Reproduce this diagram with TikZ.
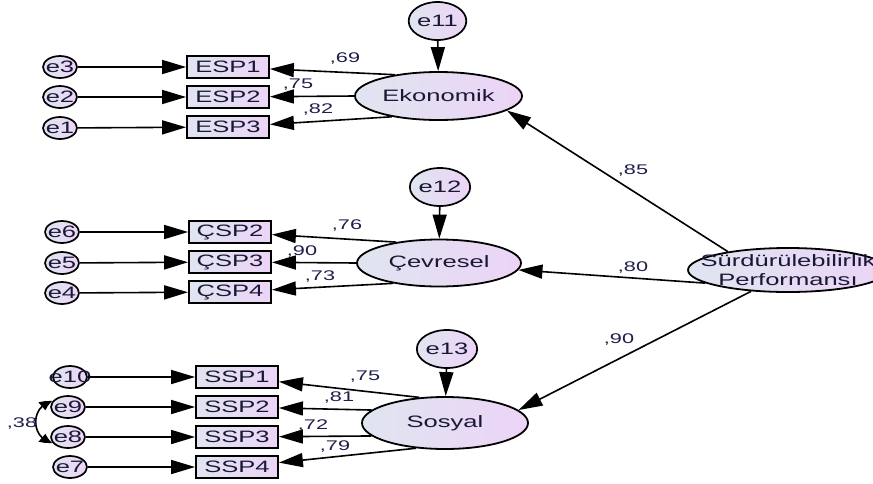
\documentclass[tikz,border=0pt]{standalone}
\usepackage{fontspec}
\setmainfont{Liberation Sans}[FakeStretch=1.55]
\usetikzlibrary{shapes.geometric,arrows.meta,bending}

\definecolor{shadeL}{RGB}{224,229,240}
\definecolor{shadeR}{RGB}{236,212,246}
\definecolor{txtcol}{RGB}{25,25,55}
\definecolor{numcol}{RGB}{30,30,75}
\newcommand{\ebox}[1]{\makebox[0pt]{#1}}

\begin{document}
\begin{tikzpicture}[x=1pt, y=1pt,
    every node/.style={text=txtcol, font=\fontsize{16.5pt}{19pt}\selectfont},
    obs/.style={draw, line width=1.8pt, rectangle, left color=shadeL, right color=shadeR, minimum width=82pt, minimum height=22pt, inner sep=0pt},
    lat/.style={draw, line width=1.8pt, ellipse, left color=shadeL, right color=shadeR, inner sep=0pt},
    err/.style={draw, line width=1.7pt, ellipse, left color=shadeL, right color=shadeR, minimum width=34pt, minimum height=22pt, inner sep=0pt},
    res/.style={draw, line width=1.7pt, ellipse, left color=shadeL, right color=shadeR, minimum width=50pt, minimum height=38pt, inner sep=0pt},
    arr/.style={line width=1.6pt, -{Triangle[length=24pt,width=14pt]}},
    cov/.style={line width=1.6pt, {Triangle[length=12pt,width=10pt,bend]}-{Triangle[length=12pt,width=10pt,bend]}},
    coef/.style={font=\fontsize{14pt}{16pt}\selectfont, text=numcol, inner sep=0pt}]
    \useasboundingbox (0,0) rectangle (873,-483);

    % Latent factors
    \node[lat, minimum width=167pt, minimum height=48pt] (Eko) at (438.5,-96) {Ekonomik};
    \node[lat, minimum width=164pt, minimum height=47pt] (Cev) at (439,-263) {Çevresel};
    \node[lat, minimum width=166pt, minimum height=52pt] (Sos) at (445,-423) {Sosyal};
    \node[lat, minimum width=200pt, minimum height=44pt,
          label={[align=center, text=txtcol]center:Sürdürülebilirlik\\Performansı}] (SP) at (788,-270) {};

    % Residuals of the factors
    \node[res] (e11) at (437.5,-21) {e11};
    \node[res] (e12) at (440,-187) {e12};
    \node[res] (e13) at (447,-349) {e13};

    % Ekonomik indicators
    \node[obs] (ESP1) at (228,-67) {ESP1};
    \node[obs] (ESP2) at (228,-97) {ESP2};
    \node[obs] (ESP3) at (228,-127) {ESP3};
    \node[err] (e3) at (60,-67) {\ebox{e3}};
    \node[err] (e2) at (60,-97) {\ebox{e2}};
    \node[err] (e1) at (60,-128) {\ebox{e1}};

    % Cevresel indicators
    \node[obs] (CSP2) at (230,-232) {ÇSP2};
    \node[obs] (CSP3) at (230,-262) {ÇSP3};
    \node[obs] (CSP4) at (230,-292) {ÇSP4};
    \node[err] (e6) at (62,-232) {\ebox{e6}};
    \node[err] (e5) at (62,-263) {\ebox{e5}};
    \node[err] (e4) at (62,-293) {\ebox{e4}};

    % Sosyal indicators
    \node[obs] (SSP1) at (237,-377) {SSP1};
    \node[obs] (SSP2) at (237,-407) {SSP2};
    \node[obs] (SSP3) at (237,-437) {SSP3};
    \node[obs] (SSP4) at (237,-467) {SSP4};
    \node[err] (e10) at (70,-377) {\ebox{e10}};
    \node[err] (e9) at (68,-407) {\ebox{e9}};
    \node[err] (e8) at (68,-437) {\ebox{e8}};
    \node[err] (e7) at (70,-467) {\ebox{e7}};

    % Error arrows
    \draw[arr] (e3) -- (ESP1);
    \draw[arr] (e2) -- (ESP2);
    \draw[arr] (e1) -- (ESP3);
    \draw[arr] (e6) -- (CSP2);
    \draw[arr] (e5) -- (CSP3);
    \draw[arr] (e4) -- (CSP4);
    \draw[arr] (e10) -- (SSP1);
    \draw[arr] (e9) -- (SSP2);
    \draw[arr] (e8) -- (SSP3);
    \draw[arr] (e7) -- (SSP4);
    \draw[arr] (e11) -- (Eko);
    \draw[arr] (e12) -- (Cev);
    \draw[arr] (e13) -- (Sos);
    \draw[cov] (e9.160) to[out=190, in=170, looseness=1.4] (e8.200);

    % Loadings
    \draw[arr] (Eko.154) -- (ESP1);
    \draw[arr] (Eko.180) -- (ESP2);
    \draw[arr] (Eko.204) -- (ESP3);
    \draw[arr] (Cev.154) -- (CSP2);
    \draw[arr] (Cev.180) -- (CSP3);
    \draw[arr] (Cev.204) -- (CSP4);
    \draw[arr] (Sos.135) -- (SSP1);
    \draw[arr] (Sos.170) -- (SSP2);
    \draw[arr] (Sos.190) -- (SSP3);
    \draw[arr] (Sos.221) -- (SSP4);

    % Second order paths
    \draw[arr] (SP.163) -- (Eko.-12);
    \draw[arr] (SP.189) -- (Cev.-5);
    \draw[arr] (SP.210) -- (Sos.10);

    % Coefficients
    \node[coef] (c1) at (345,-59) {,69};
    \node[coef] (c2) at (298,-85) {,75};
    \node[coef] (c3) at (318,-110) {,82};
    \node[coef] (c4) at (347,-226) {,76};
    \node[coef] (c5) at (302,-252) {,90};
    \node[coef] (c6) at (320,-277) {,73};
    \node[coef] (c7) at (365,-377) {,75};
    \node[coef] (c8) at (339,-397) {,81};
    \node[coef] (c9) at (313,-425) {,72};
    \node[coef] (c10) at (335,-446) {,79};
    \node[coef] (c11) at (633,-171) {,85};
    \node[coef] (c12) at (633,-268) {,80};
    \node[coef] (c13) at (619,-340) {,90};
    \node[coef] (c14) at (22,-423) {,38};
\end{tikzpicture}
\end{document}
